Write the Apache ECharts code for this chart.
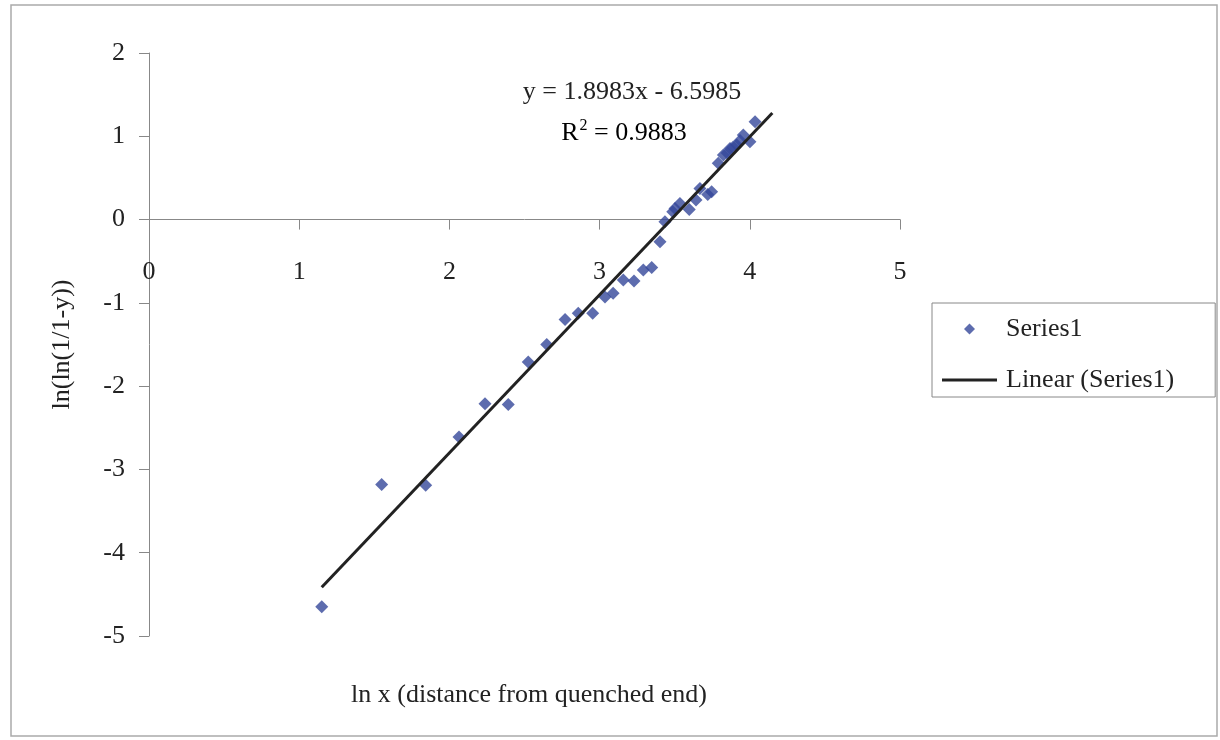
<!DOCTYPE html>
<html>
<head>
<meta charset="utf-8">
<title>ln(ln(1/1-y)) vs ln x</title>
<script src="https://cdn.jsdelivr.net/npm/echarts@6/dist/echarts.min.js"></script>
<style>
  html, body { margin: 0; padding: 0; background: #fff; }
  #chart { width: 1220px; height: 740px; }
</style>
</head>
<body>
<div id="chart"></div>
<script>
// ln x values (distance from quenched end)
var lnX = [1.15, 1.549, 1.842, 2.064, 2.237, 2.392, 2.525, 2.648, 2.77, 2.858, 2.954, 3.036, 3.09, 3.158, 3.229,
  3.291, 3.347, 3.402, 3.435, 3.487, 3.502, 3.535, 3.597, 3.642, 3.668, 3.72, 3.746, 3.79, 3.824, 3.85,
  3.868, 3.89, 3.913, 3.935, 3.957, 4.001, 4.035]
// ln(ln(1/1-y)) values
var lnY = [-4.65, -3.18, -3.19, -2.61, -2.21, -2.22, -1.71, -1.5, -1.2, -1.126, -1.126, -0.93, -0.886, -0.726, -0.738,
  -0.606, -0.574, -0.266, -0.026, 0.094, 0.134, 0.194, 0.122, 0.234, 0.374, 0.3, 0.334, 0.675, 0.774, 0.8,
  0.854, 0.87, 0.894, 0.95, 1.014, 0.934, 1.174]
// linear trendline, as printed on the chart
var trendCoef = [1.8983, -6.5985] // slope, intercept
var trendX = [1.15, 4.15]
var rSquared = '0.9883'

var serif = 'Liberation Serif'
var fontSize = 26

function initChart() {
  var myChart = echarts.init(document.getElementById('chart'))
  var points = lnX.map(function(x, i) { return [x, lnY[i]] })
  var trend = trendX.map(function(x) { return [x, trendCoef[0] * x + trendCoef[1]] })

  var option = {
    backgroundColor: '#fff',
    animation: false,
    title: {
      text: 'ln x (distance from quenched end)',
      left: 524,
      top: 677,
      textAlign: 'center',
      textStyle: { fontFamily: serif, fontSize: fontSize, fontWeight: 'normal', color: '#222' }
    },
    grid: { left: 149, right: 320, top: 53, bottom: 104 },
    legend: {
      orient: 'vertical',
      left: 932,
      top: 303,
      padding: [13, 41, 4, 10],
      itemGap: 25,
      itemWidth: 55,
      itemHeight: 11,
      symbolKeepAspect: true,
      borderColor: '#888',
      borderWidth: 1,
      borderRadius: 0,
      textStyle: { fontFamily: serif, fontSize: fontSize, color: '#222', padding: [0, 0, 0, 4] },
      data: [
        // small square-ish diamond, not stretched over the item width
        { name: 'Series1', icon: 'path://M5,0 L10,5 L5,10 L0,5 Z' },
        // plain bar for the trendline entry
        { name: 'Linear (Series1)', icon: 'path://M0,0 L55,0 L55,3 L0,3 Z' }
      ]
    },
    xAxis: {
      type: 'value',
      min: 0,
      max: 5,
      interval: 1,
      axisLine: { onZero: true, lineStyle: { color: '#888', width: 1 } },
      axisTick: { show: true, length: 10, lineStyle: { color: '#888' } },
      // labels sit under the zero line, not under the grid
      axisLabel: { margin: -377, fontFamily: serif, fontSize: fontSize, color: '#222' },
      splitLine: { show: false }
    },
    yAxis: {
      type: 'value',
      min: -5,
      max: 2,
      interval: 1,
      name: 'ln(ln(1/1-y))',
      nameLocation: 'middle',
      nameGap: 74,
      nameRotate: 90,
      nameTextStyle: { fontFamily: serif, fontSize: fontSize, color: '#222' },
      axisLine: { show: true, onZero: false, lineStyle: { color: '#888', width: 1 } },
      axisTick: { show: true, length: 10, lineStyle: { color: '#888' } },
      axisLabel: { margin: 24, fontFamily: serif, fontSize: fontSize, color: '#222' },
      splitLine: { show: false }
    },
    series: [
      {
        name: 'Series1',
        type: 'scatter',
        symbol: 'diamond',
        symbolSize: 13,
        symbolKeepAspect: true,
        itemStyle: { color: '#34479a' },
        data: points,
        z: 2
      },
      {
        name: 'Linear (Series1)',
        type: 'line',
        symbol: 'none',
        lineStyle: { color: '#222', width: 3 },
        itemStyle: { color: '#222' },
        data: trend,
        z: 3
      }
    ],
    graphic: [
      {
        // outer chart frame
        type: 'rect',
        shape: { x: 11, y: 5, width: 1206, height: 731 },
        style: { fill: 'none', stroke: '#aaa', lineWidth: 1.5 },
        silent: true
      },
      {
        type: 'text',
        x: 632,
        y: 92,
        style: {
          text: 'y = 1.8983x - 6.5985',
          font: fontSize + 'px "Liberation Serif"',
          fill: '#222',
          align: 'center',
          verticalAlign: 'middle'
        }
      },
      {
        type: 'text',
        x: 624,
        y: 132,
        style: {
          text: '{b|R}{s|2}{b| = ' + rSquared + '}',
          align: 'center',
          verticalAlign: 'middle',
          rich: {
            b: { fontFamily: serif, fontSize: fontSize, color: '#222', verticalAlign: 'bottom' },
            s: { fontFamily: serif, fontSize: 16, color: '#222', verticalAlign: 'top', padding: [0, 0, 12, 1] }
          }
        }
      }
    ]
  }
  myChart.setOption(option)
}

initChart()
</script>
</body>
</html>
